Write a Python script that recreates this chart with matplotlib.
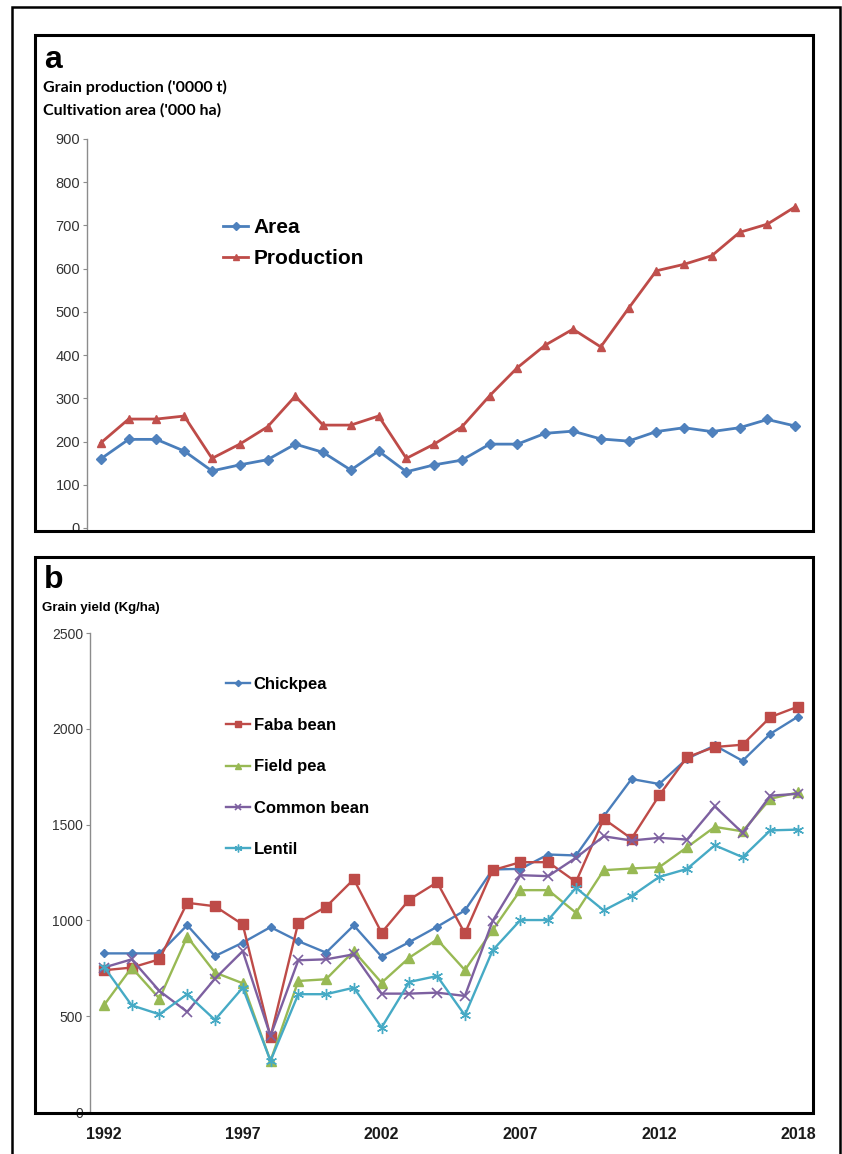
import matplotlib
matplotlib.use("Agg")
import matplotlib.pyplot as plt
from matplotlib.patches import Rectangle

plt.rcParams['font.family'] = ['Liberation Sans', 'DejaVu Sans']

# panel a: national totals
area = [160, 205, 205, 178, 132, 146, 158, 194, 175, 134, 178, 130, 146,
        157, 194, 194, 219, 224, 206, 201, 223, 232, 223, 232, 251, 236]
production = [197, 252, 252, 259, 161, 194, 234, 305, 238, 238, 259, 161, 194,
              234, 306, 371, 423, 460, 419, 508, 595, 610, 630, 684, 703, 743]

# panel b: yield by crop
chickpea = [828, 828, 828, 975, 814, 884, 965, 892, 832, 974, 811, 887, 967,
            1052, 1266, 1269, 1344, 1339, 1543, 1738, 1712, 1844, 1913, 1833, 1974, 2064]
faba_bean = [740, 754, 797, 1092, 1074, 979, 392, 988, 1071, 1215, 936, 1109, 1199,
             932, 1262, 1304, 1304, 1201, 1530, 1427, 1653, 1852, 1905, 1917, 2061, 2116]
field_pea = [557, 754, 592, 915, 728, 672, 267, 684, 693, 840, 675, 806, 901,
             741, 950, 1158, 1158, 1040, 1262, 1271, 1278, 1382, 1488, 1465, 1635, 1668]
common_bean = [754, 797, 632, 523, 696, 840, 397, 792, 797, 823, 618, 618, 623,
               606, 997, 1236, 1231, 1327, 1439, 1417, 1431, 1422, 1595, 1457, 1651, 1661]
lentil = [759, 557, 510, 615, 481, 649, 267, 615, 615, 649, 441, 679, 710,
          505, 844, 1002, 1002, 1170, 1052, 1127, 1227, 1269, 1392, 1330, 1470, 1474]

year_ticks = [0, 5, 10, 15, 20, 25]
year_labels = ['1992', '1997', '2002', '2007', '2012', '2018']

BLUE = '#4A7EBB'
RED = '#BE4B48'
GREEN = '#98B954'
PURPLE = '#7D60A0'
AQUA = '#46AAC5'

W, H = 842, 1154
fig = plt.figure(figsize=(W / 100, H / 100), dpi=100)


def fx(x):
    return x / W


def fy(y):
    return 1 - y / H


def axes_px(left, top, right, bottom):
    return fig.add_axes([fx(left), fy(bottom), (right - left) / W, (bottom - top) / H])


def box(left, top, right, bottom, lw=2.2, color='black'):
    fig.patches.append(Rectangle((fx(left), fy(bottom)), (right - left) / W,
                                 (bottom - top) / H, transform=fig.transFigure,
                                 fill=False, lw=lw, ec=color, zorder=5))


def style_axis(ax):
    for s in ['top', 'right', 'bottom']:
        ax.spines[s].set_visible(False)
    ax.spines['left'].set_color('#8c8c8c')
    ax.spines['left'].set_linewidth(1.0)
    ax.tick_params(axis='y', direction='out', length=3, width=0.8,
                   color='#8c8c8c', labelcolor='#333333', pad=2)


# outer frame and panel frames
box(12, 7, 840, 1160, lw=1.8)
box(35, 35, 813, 531)
box(35, 557, 813, 1113)

# ---- panel a ----
x = list(range(len(area)))
ax1 = axes_px(87, 139, 809, 531)
ax1.plot(x, area, color=BLUE, lw=2.0, marker='D', ms=5, mfc='#4F81BD', mec='#4F81BD', label='Area')
ax1.plot(x, production, color=RED, lw=2.0, marker='^', ms=6, mfc='#C0504D', mec='#C0504D', label='Production')
ax1.set_xlim(-0.5, 25.5)
ax1.set_ylim(-7, 900)
ax1.set_yticks(range(0, 901, 100))
ax1.set_xticks([])
style_axis(ax1)
ax1.tick_params(axis='y', labelsize=10.5)
ax1.legend(loc='upper left', bbox_to_anchor=(fx(223), fy(218)), bbox_transform=fig.transFigure,
           frameon=False, prop={'weight': 'bold', 'size': 15},
           handlelength=1.2, handletextpad=0.25, labelspacing=0.6,
           borderpad=0, borderaxespad=0, markerscale=0.8)

fig.text(fx(44), fy(68), 'a', fontsize=23, fontweight='bold', va='baseline')
fig.text(fx(43), fy(92), "Grain production ('0000 t)", fontsize=11.5, fontweight='bold',
         family=['Lato', 'DejaVu Sans'], va='baseline')
fig.text(fx(43), fy(115), "Cultivation area ('000 ha)", fontsize=11.5, fontweight='bold',
         family=['Lato', 'DejaVu Sans'], va='baseline')

# ---- panel b ----
xb = list(range(len(chickpea)))
ax2 = axes_px(90, 633, 812, 1113)
series = [
    ('Chickpea', chickpea, BLUE, dict(marker='D', ms=4.5)),
    ('Faba bean', faba_bean, RED, dict(marker='s', ms=7)),
    ('Field pea', field_pea, GREEN, dict(marker='^', ms=6.5)),
    ('Common bean', common_bean, PURPLE, dict(marker='x', ms=7, mew=1.2)),
    ('Lentil', lentil, AQUA, dict(marker=(6, 2, 0), ms=8, mew=1.0)),
]
for name, vals, col, mk in series:
    ax2.plot(xb, vals, color=col, lw=1.7, mfc=col, mec=col, label=name, **mk)
ax2.set_xlim(-0.5, 25.5)
ax2.set_ylim(-5, 2500)
ax2.set_yticks(range(0, 2501, 500))
ax2.set_xticks(year_ticks)
ax2.set_xticklabels(year_labels, fontweight='bold', fontsize=11.5)
ax2.tick_params(axis='x', length=0, pad=10, labelcolor='#1a1a1a')
style_axis(ax2)
ax2.tick_params(axis='y', labelsize=10)
ax2.legend(loc='upper left', bbox_to_anchor=(fx(226), fy(677)), bbox_transform=fig.transFigure,
           frameon=False, prop={'weight': 'bold', 'size': 12},
           handlelength=1.45, handletextpad=0.2, labelspacing=1.57,
           borderpad=0, borderaxespad=0, markerscale=0.7)

fig.text(fx(44), fy(588), 'b', fontsize=23, fontweight='bold', va='baseline')
fig.text(fx(42), fy(611), 'Grain yield (Kg/ha)', fontsize=9.5, fontweight='bold', va='baseline')

fig.savefig('out.png', dpi=100)
